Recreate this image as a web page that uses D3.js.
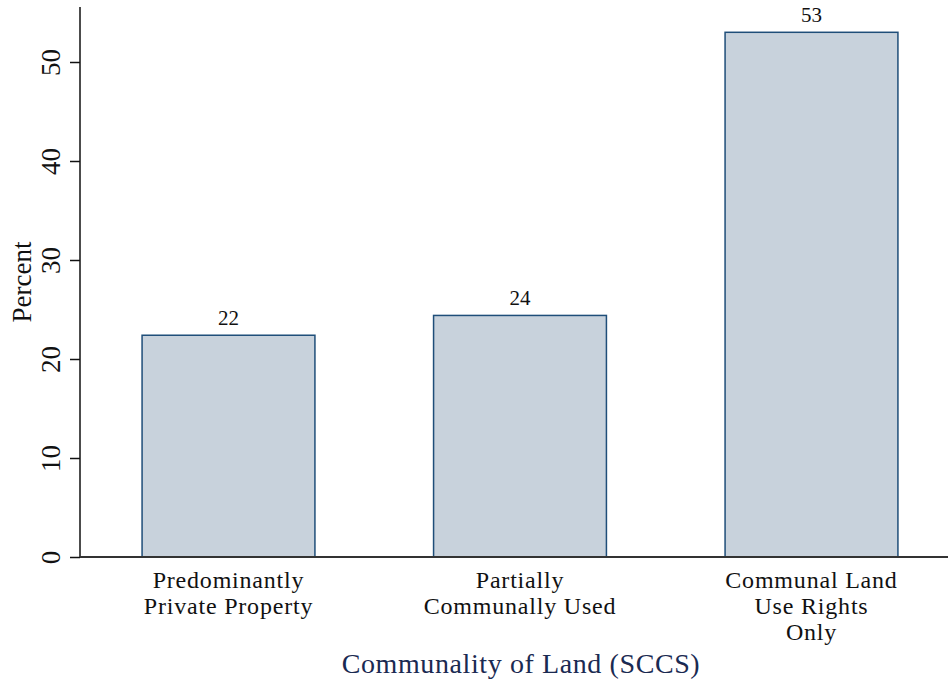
<!DOCTYPE html>
<html>
<head>
<meta charset="utf-8">
<script src="https://cdn.jsdelivr.net/npm/d3@7"></script>
<style>
  body { margin: 0; background: #fff; }
  text { font-family: "Liberation Serif", "DejaVu Serif", serif; }
</style>
</head>
<body>
<div id="chart"></div>
<script>
// data
var categories = ["Predominantly|Private Property", "Partially|Communally Used", "Communal Land|Use Rights|Only"];
var percents = [22.4, 24.4, 53.0];
var yTicks = [0, 10, 20, 30, 40, 50];

var W = 948, H = 684;
var margin = {top: 7, right: 0, bottom: 127, left: 80};

var svg = d3.select("#chart").append("svg")
  .attr("width", W)
  .attr("height", H);

var yScale = d3.scaleLinear().domain([0, 55.5]).range([557, 557 - 555 * 0.99]);
var xScale = d3.scaleBand().domain(d3.range(categories.length))
  .range([82.75, 957.25])
  .paddingInner(0.407)
  .paddingOuter(0.2035);

// bars
svg.append("g").selectAll("rect")
  .data(percents)
  .enter().append("rect")
  .attr("x", function(d, i){ return xScale(i); })
  .attr("y", function(d){ return yScale(d); })
  .attr("width", xScale.bandwidth())
  .attr("height", function(d){ return yScale(0) - yScale(d); })
  .attr("fill", "#c8d2dc")
  .attr("stroke", "#1f4e79")
  .attr("stroke-width", 1.5);

// value labels
svg.append("g").selectAll("text")
  .data(percents)
  .enter().append("text")
  .attr("x", function(d, i){ return xScale(i) + xScale.bandwidth() / 2; })
  .attr("y", function(d){ return yScale(d) - 10; })
  .attr("text-anchor", "middle")
  .attr("font-size", "21px")
  .attr("fill", "#111")
  .text(function(d){ return Math.round(d); });

// y axis
var yAxis = d3.axisLeft(yScale).tickValues(yTicks).tickSize(10).tickPadding(10);
var yAxisGroup = svg.append("g").attr("transform", "translate(" + margin.left + ",0)").call(yAxis);
yAxisGroup.select(".domain").attr("d", "M0," + margin.top + "V557").attr("stroke", "#111").attr("stroke-width", 1.5);
yAxisGroup.selectAll(".tick line").attr("stroke", "#111").attr("stroke-width", 1.5);
yAxisGroup.selectAll(".tick text")
  .attr("font-size", "27px")
  .attr("fill", "#111")
  .attr("x", null).attr("dy", null)
  .attr("text-anchor", "middle")
  .attr("transform", "translate(-20,0) rotate(-90)");

// x axis baseline
svg.append("line")
  .attr("x1", margin.left).attr("x2", W)
  .attr("y1", yScale(0)).attr("y2", yScale(0))
  .attr("stroke", "#333").attr("stroke-width", 2);

// category labels
var catG = svg.append("g").selectAll("text")
  .data(categories)
  .enter().append("text")
  .attr("text-anchor", "middle")
  .attr("font-size", "24px")
  .attr("letter-spacing", "0.8px")
  .attr("fill", "#111");
catG.each(function(d, i){
  var t = d3.select(this);
  d.split("|").forEach(function(line, j){
    t.append("tspan")
      .attr("x", xScale(i) + xScale.bandwidth() / 2)
      .attr("y", 588 + j * 26)
      .text(line);
  });
});

// axis titles
svg.append("text")
  .attr("transform", "translate(31," + 282 + ") rotate(-90)")
  .attr("text-anchor", "middle")
  .attr("font-size", "27px")
  .attr("fill", "#111")
  .text("Percent");

svg.append("text")
  .attr("x", 521).attr("y", 673)
  .attr("text-anchor", "middle")
  .attr("font-size", "28px")
  .attr("letter-spacing", "0.6px")
  .attr("fill", "#1a2a52")
  .text("Communality of Land (SCCS)");
</script>
</body>
</html>
